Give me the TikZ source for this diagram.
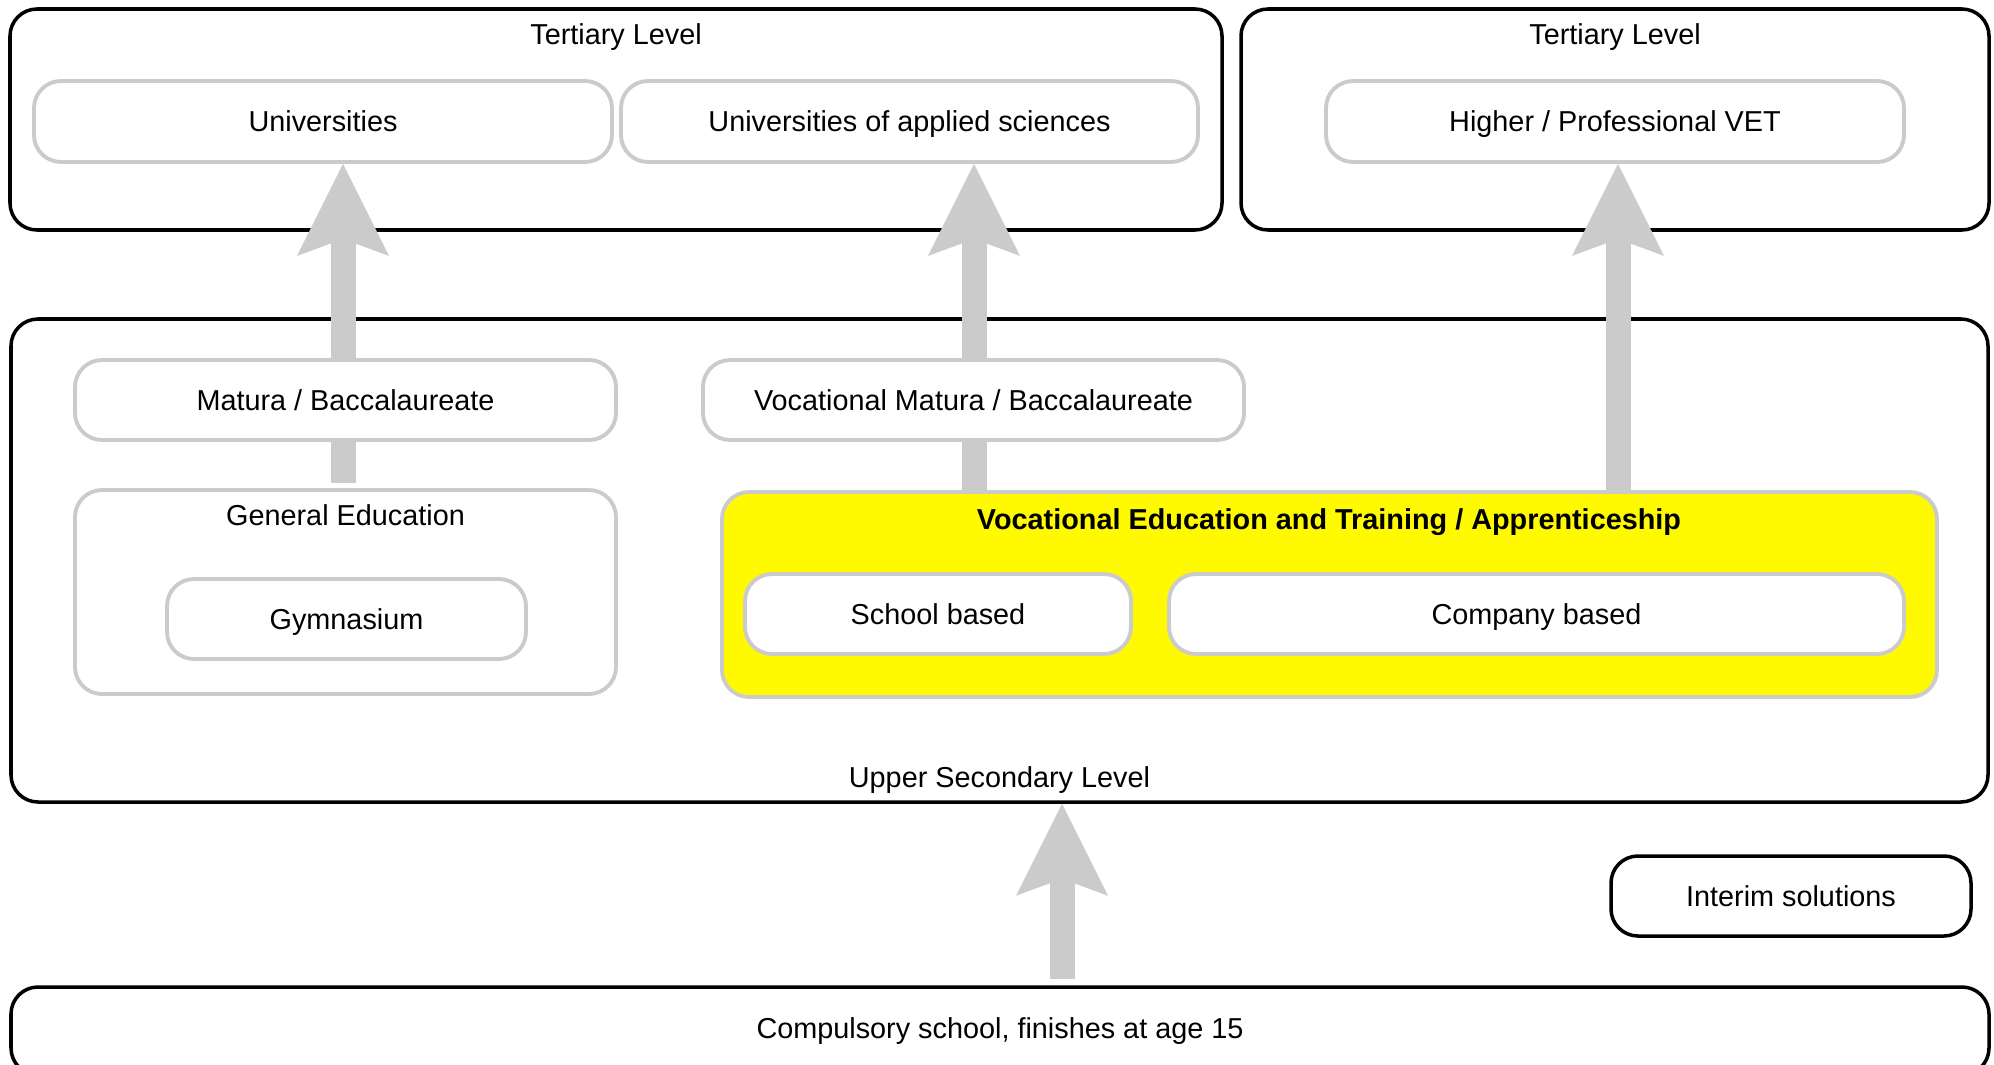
\documentclass[tikz,border=0pt]{standalone}
\usepackage{fontspec}
\setmainfont{Liberation Sans}
\usetikzlibrary{arrows.meta}
\definecolor{edgegray}{HTML}{CBCBCB}
\definecolor{vetyellow}{HTML}{FFFA00}

\tikzset{
  txt/.style={font=\fontsize{8.2}{10}\selectfont, text height=5.9pt, text depth=0pt, inner sep=0pt},
  base/.style={txt, rounded corners=0.27cm, minimum height=0.8cm, fill=white},
  levelbox/.style={base, draw=black, line width=1pt},
  itembox/.style={base, draw=edgegray, line width=1.1pt},
  vetbox/.style={base, draw=edgegray, line width=1.1pt, fill=vetyellow},
  flow/.style={draw=edgegray, line width=0.25cm,
    -{Stealth[length=9.2mm, width=9.2mm, inset=1.7mm, line width=0pt, fill=edgegray]}},
}

\begin{document}
\begin{tikzpicture}
\useasboundingbox (0,0) rectangle (19.94,-10.65);

% level frames
\node[levelbox, minimum width=12.12cm, minimum height=2.21cm] (t1) at (6.16,-1.195) {};
\node[levelbox, minimum width=7.48cm, minimum height=2.21cm] (t2) at (16.15,-1.195) {};
\node[levelbox, minimum width=19.77cm, minimum height=4.83cm] (upper) at (9.995,-5.605) {};
\node[levelbox, minimum width=19.78cm, minimum height=0.88cm] (comp) at (10.0,-10.31) {};
\node[levelbox, minimum width=3.60cm] (interim) at (17.91,-8.96) {Interim solutions};

\node[txt] (t1lbl) at (t1.center |- 0,-0.343) {Tertiary Level};
\node[txt] (t2lbl) at (t2.center |- 0,-0.343) {Tertiary Level};
\node[txt] (upperlbl) at (upper.center |- 0,-7.77) {Upper Secondary Level};
\node[txt] (complbl) at (comp.center |- 0,-10.28) {Compulsory school, finishes at age 15};

% tertiary institutions
\node[itembox, minimum width=5.78cm, minimum height=0.81cm] (uni) at (3.23,-1.215) {Universities};
\node[itembox, minimum width=5.77cm, minimum height=0.81cm] (uas) at (9.095,-1.215) {Universities of applied sciences};
\node[itembox, minimum width=5.78cm, minimum height=0.81cm] (hpvet) at (16.15,-1.215) {Higher / Professional VET};

% upper secondary programmes
\node[itembox, minimum width=5.41cm, minimum height=2.04cm] (gened) at (3.455,-5.92) {};
\node[txt] (genedlbl) at (gened.center |- 0,-5.15) {General Education};
\node[itembox, minimum width=3.59cm] (gym) at (3.465,-6.19) {Gymnasium};

\node[vetbox, minimum width=12.15cm, minimum height=2.05cm] (vet) at (13.295,-5.945) {};
\node[txt, font=\fontsize{8.2}{10}\selectfont\bfseries] (vetlbl) at (13.29,-5.19) {Vocational Education and Training / Apprenticeship};
\node[itembox, minimum width=3.86cm] (school) at (9.38,-6.14) {School based};
\node[itembox, minimum width=7.35cm] (company) at (15.365,-6.14) {Company based};

% pathways
\coordinate (c1) at (3.43,0);
\coordinate (c2) at (9.74,0);
\coordinate (c3) at (16.18,0);
\coordinate (c4) at (10.62,0);
\draw[flow] ([yshift=0.05cm]gened.north -| c1) -- (uni.south -| c1);
\draw[flow] (vet.north -| c2) -- (uas.south -| c2);
\draw[flow] (vet.north -| c3) -- (hpvet.south -| c3);
\draw[flow] ([yshift=0.06cm]comp.north -| c4) -- (upper.south -| c4);

% leaving certificates, drawn over the pathways
\node[itembox, minimum width=5.41cm] (matura) at (3.455,-4.0) {Matura / Baccalaureate};
\node[itembox, minimum width=5.41cm] (vmatura) at (9.735,-4.0) {Vocational Matura / Baccalaureate};
\end{tikzpicture}
\end{document}
